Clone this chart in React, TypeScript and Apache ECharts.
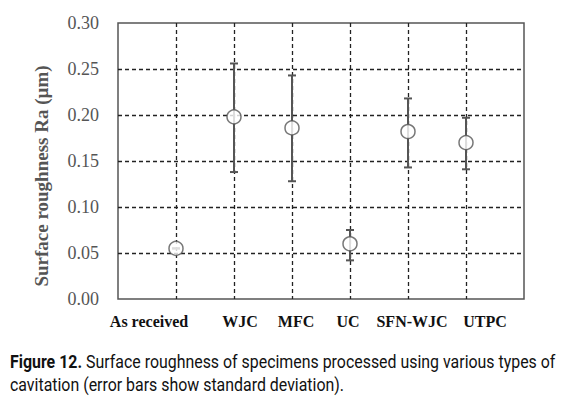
import React, { useEffect, useRef } from "react";
import * as echarts from "echarts";

const categories = ["As received", "WJC", "MFC", "UC", "SFN-WJC", "UTPC"];
const meanRa = [0.055, 0.198, 0.186, 0.06, 0.182, 0.17];
const lowerRa = [0.055, 0.138, 0.128, 0.042, 0.143, 0.141];
const upperRa = [0.055, 0.256, 0.243, 0.075, 0.218, 0.197];
const yTicks = [0, 0.05, 0.1, 0.15, 0.2, 0.25, 0.3];

const yName = "Surface roughness Ra (\u00b5m)";
const captionBold = "Figure 12.";
const captionLine1 = "Surface roughness of specimens processed using various types of";
const captionLine2 = "cavitation (error bars show standard deviation).";

// label horizontal shifts (px), style only
const labelShift = [-27, 6, 4, -2, 4, 19];

const CAP_FONT = "Roboto";
const CAP_SIZE = 19;

function measure(text: string, weight: string): number {
  const c = document.createElement("canvas");
  const ctx = c.getContext("2d");
  if (!ctx) return text.length * CAP_SIZE * 0.5;
  ctx.font = weight + " " + CAP_SIZE + "px " + CAP_FONT;
  return ctx.measureText(text).width;
}

export default function App() {
  const ref = useRef<HTMLDivElement>(null);
  useEffect(() => {
    if (!ref.current) return;
    const chart = echarts.init(ref.current, null, { renderer: "svg" });
    const rich: any = {};
    labelShift.forEach((d, i) => {
      rich["l" + i] = {
        fontFamily: "Liberation Serif",
        fontWeight: "bold",
        fontSize: 16,
        color: "#111",
        padding: d >= 0 ? [0, 0, 0, 2 * d] : [0, -2 * d, 0, 0],
      };
    });
    const pts = meanRa.map((v, i) => [i + 1, v]);
    const errs = meanRa.map((v, i) => [i + 1, lowerRa[i], upperRa[i]]);
    const gridLineColor = "#222";
    const w1 = measure(captionBold, "bold") + measure(" " + captionLine1, "normal");
    const capScale = 546 / w1;
    const capRich = {
      b: { fontFamily: CAP_FONT, fontWeight: "bold", fontSize: CAP_SIZE, fill: "#111", lineHeight: 23 },
      n: { fontFamily: CAP_FONT, fontSize: CAP_SIZE, fill: "#111", lineHeight: 23 },
    };
    chart.setOption({
      animation: false,
      backgroundColor: "#fff",
      grid: {
        left: 118,
        right: 52,
        top: 23,
        bottom: 100,
        show: true,
        borderColor: "#555",
        borderWidth: 1.5,
        backgroundColor: "transparent",
      },
      xAxis: {
        type: "value",
        min: 0,
        max: 7,
        interval: 1,
        axisLine: { show: false },
        axisTick: { show: false },
        splitLine: {
          show: true,
          lineStyle: {
            type: [4, 3],
            width: 1.3,
            color: ["transparent", gridLineColor, gridLineColor, gridLineColor, gridLineColor, gridLineColor, gridLineColor, "transparent"],
          },
        },
        axisLabel: {
          margin: 14,
          formatter: (v: number) => {
            const i = Math.round(v) - 1;
            if (i < 0 || i >= categories.length) return "";
            return "{l" + i + "|" + categories[i] + "}";
          },
          rich,
        },
      },
      yAxis: {
        type: "value",
        min: yTicks[0],
        max: yTicks[yTicks.length - 1],
        interval: 0.05,
        axisLine: { show: false },
        axisTick: { show: false },
        splitLine: {
          show: true,
          lineStyle: {
            type: [4, 3],
            width: 1.3,
            color: ["transparent", gridLineColor, gridLineColor, gridLineColor, gridLineColor, gridLineColor, "transparent"],
          },
        },
        axisLabel: {
          margin: 19,
          fontFamily: "Liberation Serif",
          fontSize: 18,
          color: "#555",
          formatter: (v: number) => v.toFixed(2),
        },
      },
      graphic: [
        {
          type: "text",
          x: 41,
          y: 176,
          rotation: Math.PI / 2,
          style: {
            text: yName,
            fontFamily: "Liberation Serif",
            fontWeight: "bold",
            fontSize: 19,
            fill: "#555",
            align: "center",
            verticalAlign: "middle",
          },
        },
        {
          type: "text",
          x: 10,
          y: 350,
          scaleX: capScale,
          style: {
            text: "{b|" + captionBold + "}{n| " + captionLine1 + "}\n{n|" + captionLine2 + "}",
            rich: capRich,
            fontFamily: CAP_FONT,
            fontSize: CAP_SIZE,
            lineHeight: 23,
          },
        },
      ],
      series: [
        {
          type: "custom",
          z: 3,
          data: errs,
          renderItem: (params: any, api: any) => {
            const x = api.value(0);
            const lo = api.coord([x, api.value(1)]);
            const hi = api.coord([x, api.value(2)]);
            const cap = 4;
            const style = { stroke: "#555", lineWidth: 2 };
            return {
              type: "group",
              children: [
                { type: "line", shape: { x1: lo[0], y1: lo[1], x2: hi[0], y2: hi[1] }, style },
                { type: "line", shape: { x1: lo[0] - cap, y1: lo[1], x2: lo[0] + cap, y2: lo[1] }, style },
                { type: "line", shape: { x1: hi[0] - cap, y1: hi[1], x2: hi[0] + cap, y2: hi[1] }, style },
              ],
            };
          },
        },
        {
          type: "scatter",
          z: 4,
          data: pts,
          symbol: "circle",
          symbolSize: 14,
          itemStyle: { color: "#fff", borderColor: "#555", borderWidth: 1.5 },
        },
      ],
    });
    return () => chart.dispose();
  }, []);
  return (
    <div
      ref={ref}
      style={{ position: "absolute", left: 0, top: 0, width: 576, height: 399, background: "#fff" }}
    />
  );
}
